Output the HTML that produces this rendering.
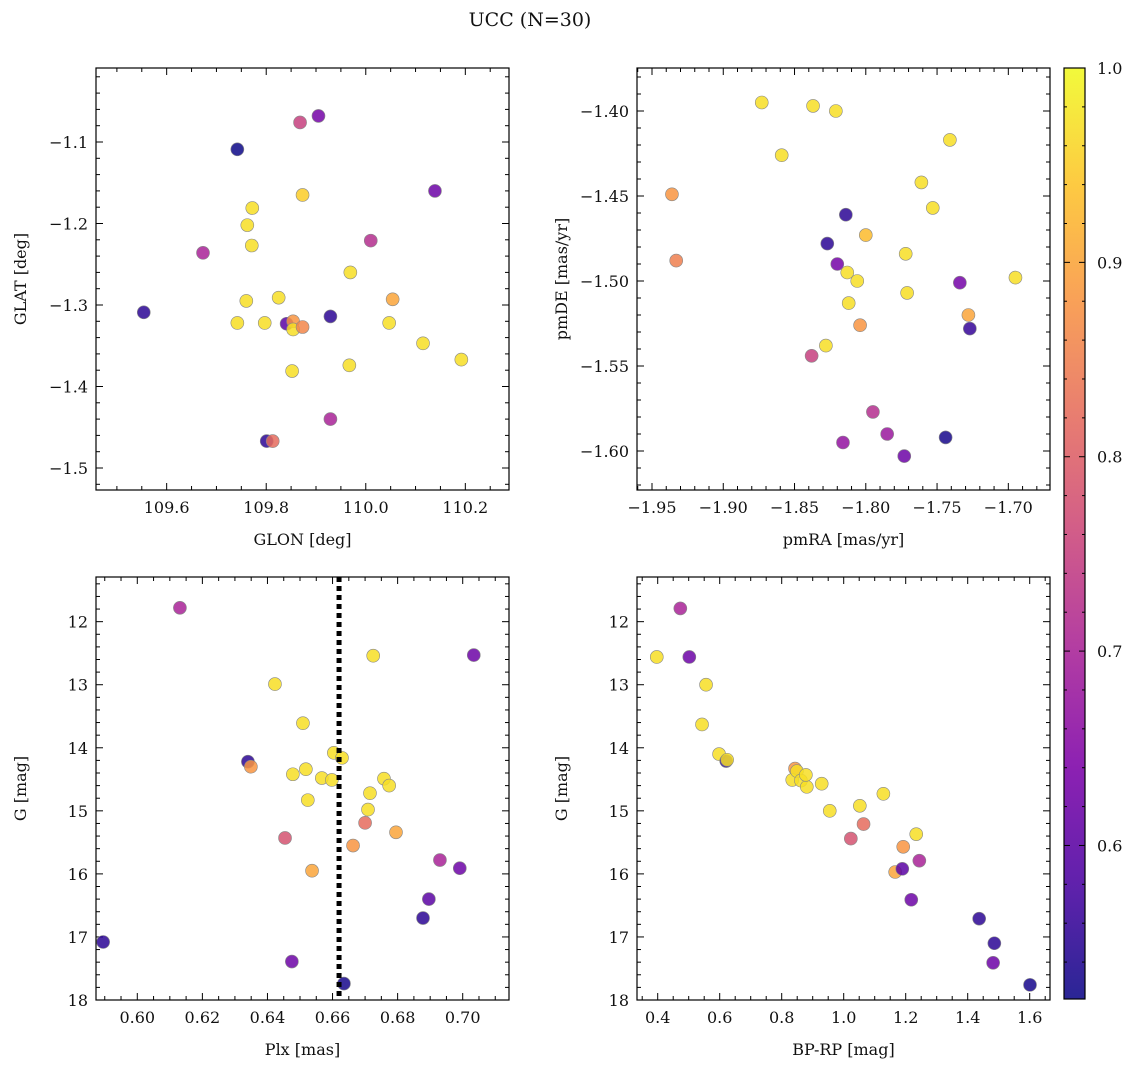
<!DOCTYPE html>
<html><head><meta charset="utf-8"><style>
html,body{margin:0;padding:0;background:#fff;}
svg text{font-family:"DejaVu Serif","Liberation Serif",serif;fill:#111;}
</style></head><body>
<svg id="fig" width="1136" height="1067" viewBox="0 0 1136 1067" xmlns="http://www.w3.org/2000/svg">
<text x="530" y="26" font-size="19" text-anchor="middle">UCC (N=30)</text>
</svg>
<script>
// Panel 1: GLON / GLAT
const p1x=[109.554,109.673,109.742,109.742,109.760,109.762,109.772,109.771,109.797,109.801,109.813,109.825,109.841,109.854,109.854,109.852,109.868,109.873,109.873,109.905,109.929,109.929,109.969,109.967,110.010,110.047,110.054,110.115,110.139,110.192];
const p1y=[-1.309,-1.236,-1.109,-1.322,-1.295,-1.202,-1.181,-1.227,-1.322,-1.467,-1.467,-1.291,-1.323,-1.320,-1.330,-1.381,-1.076,-1.327,-1.165,-1.068,-1.314,-1.440,-1.260,-1.374,-1.221,-1.322,-1.293,-1.347,-1.160,-1.367];
const p1c=[0.55,0.7,0.52,0.97,0.97,0.97,0.97,0.97,0.97,0.55,0.82,0.97,0.6,0.88,0.97,0.97,0.75,0.86,0.95,0.63,0.55,0.7,0.97,0.97,0.72,0.97,0.9,0.97,0.62,0.97];
// Panel 2: pmRA / pmDE
const p2x=[-1.873,-1.837,-1.821,-1.741,-1.859,-1.761,-1.936,-1.753,-1.814,-1.800,-1.827,-1.933,-1.772,-1.820,-1.813,-1.806,-1.734,-1.695,-1.771,-1.812,-1.728,-1.727,-1.804,-1.828,-1.838,-1.795,-1.785,-1.816,-1.744,-1.773];
const p2y=[-1.395,-1.397,-1.400,-1.417,-1.426,-1.442,-1.449,-1.457,-1.461,-1.473,-1.478,-1.488,-1.484,-1.490,-1.495,-1.500,-1.501,-1.498,-1.507,-1.513,-1.520,-1.528,-1.526,-1.538,-1.544,-1.577,-1.590,-1.595,-1.592,-1.603];
const p2c=[0.97,0.97,0.97,0.97,0.97,0.97,0.88,0.97,0.55,0.93,0.55,0.85,0.97,0.63,0.97,0.97,0.63,0.97,0.97,0.97,0.9,0.56,0.88,0.97,0.75,0.72,0.68,0.67,0.53,0.62];
// Panel 3: Plx / G
const p3x=[0.5895,0.6131,0.6340,0.6349,0.6423,0.6454,0.6478,0.6475,0.6509,0.6518,0.6524,0.6537,0.6567,0.6598,0.6604,0.6629,0.6635,0.6663,0.6700,0.6709,0.6715,0.6725,0.6758,0.6774,0.6795,0.6878,0.6896,0.6930,0.6991,0.7034];
const p3y=[17.08,11.78,14.22,14.30,12.99,15.43,14.42,17.39,13.61,14.34,14.83,15.95,14.48,14.51,14.08,14.16,17.74,15.55,15.19,14.98,14.72,12.54,14.49,14.60,15.34,16.70,16.40,15.78,15.91,12.53];
const p3c=[0.55,0.7,0.55,0.88,0.97,0.78,0.97,0.62,0.97,0.97,0.97,0.9,0.97,0.97,0.97,0.97,0.53,0.88,0.82,0.97,0.97,0.97,0.97,0.97,0.9,0.55,0.6,0.7,0.62,0.62];
// Panel 4: BP-RP / G
const p4x=[0.397,0.473,0.502,0.556,0.543,0.598,0.621,0.624,0.843,0.834,0.849,0.862,0.881,0.929,0.955,1.023,1.052,1.064,1.128,1.166,1.192,1.234,1.189,1.244,1.218,1.437,1.486,1.482,1.601,0.878];
const p4y=[12.56,11.79,12.56,13.00,13.63,14.10,14.21,14.19,14.33,14.51,14.37,14.52,14.62,14.57,15.00,15.44,14.92,15.21,14.73,15.97,15.57,15.37,15.92,15.79,16.41,16.71,17.10,17.41,17.76,14.43];
const p4c=[0.97,0.7,0.62,0.97,0.97,0.97,0.55,0.97,0.88,0.97,0.97,0.97,0.97,0.97,0.97,0.78,0.97,0.82,0.97,0.9,0.88,0.97,0.6,0.7,0.62,0.55,0.55,0.62,0.53,0.97];
const plxLine=[0.662];
const cbTicks=[0.6,0.7,0.8,0.9,1.0];
const cMin=0.521, cMax=1.0;

const NS="http://www.w3.org/2000/svg";
const svg=document.getElementById('fig');
function mk(tag,attrs,parent){const e=document.createElementNS(NS,tag);for(const k in attrs)e.setAttribute(k,attrs[k]);(parent||svg).appendChild(e);return e;}
const plasma=[[13,8,135],[75,3,161],[125,3,168],[168,34,150],[203,70,121],[229,107,93],[248,148,65],[253,195,40],[240,249,33]];
function cmap(v){let t=(v-cMin)/(cMax-cMin);t=Math.max(0,Math.min(1,t));const s=t*(plasma.length-1);const i=Math.min(plasma.length-2,Math.floor(s));const f=s-i;const a=plasma[i],b=plasma[i+1];return `rgb(${Math.round(a[0]+(b[0]-a[0])*f)},${Math.round(a[1]+(b[1]-a[1])*f)},${Math.round(a[2]+(b[2]-a[2])*f)})`;}

function panel(cfg){
  const {L,R,T,B,x0,x1,y0,y1,xMaj,xMin,yMaj,yMin,xs,ys,cs,xl,yl,dec,ydec,name,invert}=cfg;
  const g=mk('g',{});
  const X=v=>L+(v-x0)/(x1-x0)*(R-L);
  const Y=invert?(v=>T+(v-y0)/(y1-y0)*(B-T)):(v=>B-(v-y0)/(y1-y0)*(B-T));
  const tk=mk('g',{stroke:'#000','stroke-width':1},g);
  const eps=1e-9;
  for(let k=Math.ceil(x0/xMin-eps);k*xMin<=x1+eps;k++){const v=k*xMin;const p=X(v);const maj=Math.abs(v/xMaj-Math.round(v/xMaj))<1e-6;const l=maj?7:4;
    mk('line',{x1:p,x2:p,y1:B,y2:B-l},tk);mk('line',{x1:p,x2:p,y1:T,y2:T+l},tk);
    if(maj){const t=mk('text',{x:p,y:B+23,'font-size':16,'text-anchor':'middle'},g);t.textContent=(v<-1e-9?'\u2212':'')+Math.abs(v).toFixed(dec);}}
  const ya=Math.min(y0,y1),yb=Math.max(y0,y1);
  for(let k=Math.ceil(ya/yMin-eps);k*yMin<=yb+eps;k++){const v=k*yMin;const p=Y(v);const maj=Math.abs(v/yMaj-Math.round(v/yMaj))<1e-6;const l=maj?7:4;
    mk('line',{y1:p,y2:p,x1:L,x2:L+l},tk);mk('line',{y1:p,y2:p,x1:R,x2:R-l},tk);
    if(maj){const t=mk('text',{x:L-8,y:p+6,'font-size':16,'text-anchor':'end'},g);t.textContent=(v<-1e-9?'\u2212':'')+Math.abs(v).toFixed(ydec);}}
  for(let i=0;i<xs.length;i++){
    const c=mk('circle',{cx:X(xs[i]),cy:Y(ys[i]),r:6.5,fill:cmap(cs[i]),'fill-opacity':0.85,stroke:'#888','stroke-width':0.6},g);
    
    
  }
  mk('rect',{x:L,y:T,width:R-L,height:B-T,fill:'none',stroke:'#000','stroke-width':1.2},g);
  const xt=mk('text',{x:(L+R)/2,y:B+55,'font-size':16,'text-anchor':'middle'},g);xt.textContent=xl;
  
  const yx=L-70;const yt=mk('text',{x:yx,y:(T+B)/2,'font-size':16,'text-anchor':'middle',transform:`rotate(-90 ${yx} ${(T+B)/2})`},g);yt.textContent=yl;
  
  return {X,Y,g};
}
panel({name:'glon-glat-panel',L:96,R:509,T:68,B:490,x0:109.6-70.7/498,x1:110.2+43.7/498,y0:-1.1-348/815,y1:-1.1+74/815,xMaj:0.2,xMin:0.05,yMaj:0.1,yMin:0.02,xs:p1x,ys:p1y,cs:p1c,xl:'GLON [deg]',yl:'GLAT [deg]',dec:1,ydec:1});
panel({name:'pm-panel',L:637,R:1050,T:68,B:490,x0:-1.95-15/1426,x1:-1.70+41.7/1426,y0:-1.40-379/1700,y1:-1.40+43/1700,xMaj:0.05,xMin:0.01,yMaj:0.05,yMin:0.01,xs:p2x,ys:p2y,cs:p2c,xl:'pmRA [mas/yr]',yl:'pmDE [mas/yr]',dec:2,ydec:2});
const P3=panel({name:'plx-g-panel',L:96,R:509,T:577,B:1000,x0:0.60-41.3/3255,x1:0.70+46.3/3255,y0:12-44.7/63.1,y1:18,xMaj:0.02,xMin:0.005,yMaj:1,yMin:0.2,xs:p3x,ys:p3y,cs:p3c,xl:'Plx [mas]',yl:'G [mag]',dec:2,ydec:0,invert:true});
panel({name:'cmd-panel',L:637,R:1050,T:577,B:1000,x0:0.4-20.7/310,x1:1.6+20.3/310,y0:12-44.7/63.1,y1:18,xMaj:0.2,xMin:0.05,yMaj:1,yMin:0.2,xs:p4x,ys:p4y,cs:p4c,xl:'BP-RP [mag]',yl:'G [mag]',dec:1,ydec:0,invert:true});
plxLine.forEach(v=>{const l=mk('line',{x1:P3.X(v),x2:P3.X(v),y1:577,y2:1000,stroke:'#000','stroke-width':5,'stroke-dasharray':'5,4'});
  
  });
// colorbar
const cb=mk('g',{});
const defs=mk('defs',{},svg);const grad=mk('linearGradient',{id:'cg',x1:0,y1:1,x2:0,y2:0},defs);
plasma.forEach((c,i)=>mk('stop',{offset:i/(plasma.length-1),'stop-color':`rgb(${c})`,'stop-opacity':0.88},grad));
const CT=68,CB=999,CL=1064,CR=1085;
mk('rect',{x:CL,y:CT,width:CR-CL,height:CB-CT,fill:'url(#cg)',stroke:'#000','stroke-width':1.2},cb);
const CY=v=>CB-(v-cMin)/(cMax-cMin)*(CB-CT);
for(let k=27;k<=50;k++){const v=k*0.02;const p=CY(v);const maj=cbTicks.some(t=>Math.abs(t-v)<1e-6);
  mk('line',{x1:CR,x2:CR-(maj?6:3),y1:p,y2:p,stroke:'#000'},cb);mk('line',{x1:CL,x2:CL+(maj?6:3),y1:p,y2:p,stroke:'#000'},cb);}
cbTicks.forEach(v=>{const t=mk('text',{x:CR+12,y:CY(v)+6,'font-size':16},cb);t.textContent=v.toFixed(1);
  
  });
</script>
</body></html>
